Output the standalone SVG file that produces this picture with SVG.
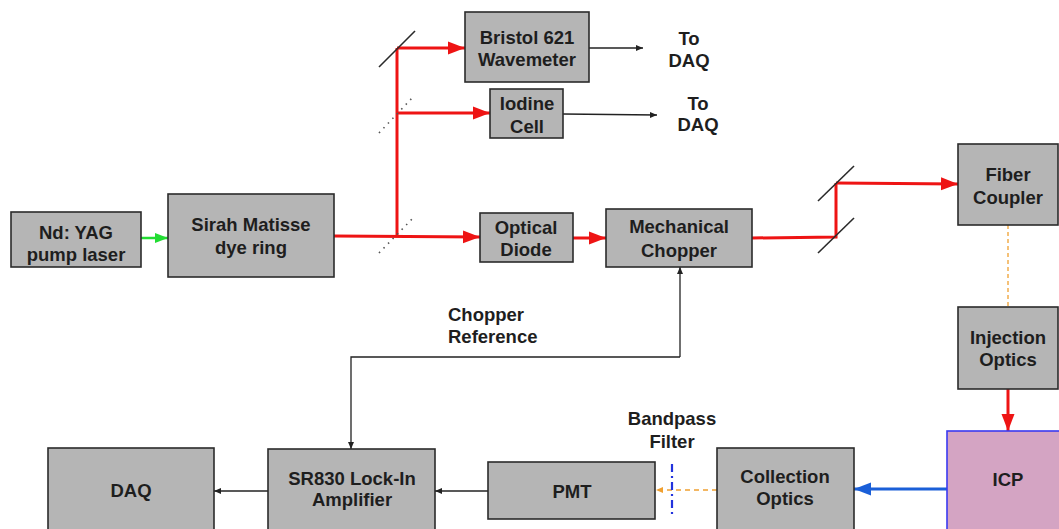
<svg xmlns="http://www.w3.org/2000/svg" width="1059" height="529" viewBox="0 0 1059 529">
<style>
.box{fill:#b5b5b5;stroke:#2b2b2b;stroke-width:1.6}
.icp{fill:#d4a4c3;stroke:#3a3af0;stroke-width:1.6}
text{font-family:"Liberation Sans",Arial,sans-serif;font-weight:bold;font-size:18.5px;fill:#1e1e1e;text-anchor:middle}
.red{stroke:#ee1414;stroke-width:3;fill:none}
.blk{stroke:#222;stroke-width:1.3;fill:none}
.mir{stroke:#2a2a2a;stroke-width:1.6}
.bs{stroke:#555;stroke-width:1.6;stroke-dasharray:1.5 5}
</style>
<defs>
<marker id="ar" markerUnits="userSpaceOnUse" markerWidth="18" markerHeight="14" refX="17" refY="7" orient="auto"><path d="M0,0.5 L17,7 L0,13.5 z" fill="#ee1414"/></marker>
<marker id="ab" markerUnits="userSpaceOnUse" markerWidth="18" markerHeight="14" refX="17" refY="7" orient="auto"><path d="M0,0.5 L17,7 L0,13.5 z" fill="#1a5fd8"/></marker>
<marker id="ag" markerUnits="userSpaceOnUse" markerWidth="14" markerHeight="12" refX="13" refY="6" orient="auto"><path d="M0,1 L13,6 L0,11 z" fill="#22dd33"/></marker>
<marker id="ak" markerUnits="userSpaceOnUse" markerWidth="8" markerHeight="8" refX="7" refY="4" orient="auto"><path d="M0,1 L7,4 L0,7 z" fill="#222"/></marker>
<marker id="ao" markerUnits="userSpaceOnUse" markerWidth="8" markerHeight="8" refX="7" refY="4" orient="auto"><path d="M0,1 L7,4 L0,7 z" fill="#f0a030"/></marker>
</defs>

<g id="connectors">
  <line x1="141" y1="238" x2="168" y2="238" stroke="#22dd33" stroke-width="2.5" marker-end="url(#ag)"/>
  <line class="red" x1="334" y1="236" x2="480" y2="237" marker-end="url(#ar)"/>
  <line class="red" x1="397" y1="237" x2="397" y2="48"/>
  <line class="red" x1="397" y1="48" x2="465" y2="48" marker-end="url(#ar)"/>
  <line class="red" x1="397" y1="113" x2="490" y2="113" marker-end="url(#ar)"/>
  <line class="red" x1="573" y1="238" x2="606" y2="238" marker-end="url(#ar)"/>
  <polyline class="red" points="752,238 836,237 836,183"/>
  <line class="red" x1="836" y1="183" x2="958" y2="184" marker-end="url(#ar)"/>
  <line class="red" x1="1008" y1="389" x2="1008" y2="431" marker-end="url(#ar)"/>
  <line class="mir" x1="379" y1="67" x2="415" y2="31"/>
  <line class="bs" x1="379" y1="133" x2="413" y2="97"/>
  <line class="bs" x1="379" y1="253" x2="413" y2="218"/>
  <line class="mir" x1="818" y1="201" x2="854" y2="166"/>
  <line class="mir" x1="818" y1="253" x2="854" y2="218"/>
  <line x1="1008" y1="225" x2="1008" y2="307" stroke="#f0a030" stroke-width="1.3" stroke-dasharray="4 3"/>
  <line x1="947" y1="489" x2="854" y2="489" stroke="#1a5fd8" stroke-width="3" marker-end="url(#ab)"/>
  <line x1="717" y1="490" x2="656" y2="490" stroke="#f0a030" stroke-width="1.5" stroke-dasharray="5 4" marker-end="url(#ao)"/>
  <line x1="672" y1="464" x2="672" y2="518" stroke="#2233dd" stroke-width="2.2" stroke-dasharray="8 4 2 4"/>
  <line class="blk" x1="589" y1="48" x2="643" y2="48" marker-end="url(#ak)"/>
  <line class="blk" x1="563" y1="114" x2="657" y2="115" marker-end="url(#ak)"/>
  <line class="blk" x1="488" y1="491" x2="435" y2="491" marker-end="url(#ak)"/>
  <line class="blk" x1="268" y1="491" x2="214" y2="491" marker-end="url(#ak)"/>
  <polyline class="blk" points="680,357 680,267" marker-end="url(#ak)"/>
  <polyline class="blk" points="680,357 351,357 351,449" marker-end="url(#ak)"/>
</g>

<g id="nd-yag"><rect class="box" x="11" y="212" width="130" height="55"/><text x="76" y="239">Nd: YAG</text><text x="76" y="261">pump laser</text></g>
<g id="sirah"><rect class="box" x="168" y="194" width="166" height="83"/><text x="251" y="231">Sirah Matisse</text><text x="251" y="254">dye ring</text></g>
<g id="bristol"><rect class="box" x="465" y="12" width="124" height="70"/><text x="527" y="44">Bristol 621</text><text x="527" y="66">Wavemeter</text></g>
<g id="iodine"><rect class="box" x="490" y="89" width="73" height="49"/><text x="527" y="110">Iodine</text><text x="527" y="133">Cell</text></g>
<g id="diode"><rect class="box" x="480" y="213" width="93" height="49"/><text x="526" y="234">Optical</text><text x="526" y="256">Diode</text></g>
<g id="chopper"><rect class="box" x="606" y="209" width="146" height="58"/><text x="679" y="233">Mechanical</text><text x="679" y="257">Chopper</text></g>
<g id="fiber"><rect class="box" x="958" y="144" width="100" height="81"/><text x="1008" y="181">Fiber</text><text x="1008" y="204">Coupler</text></g>
<g id="injection"><rect class="box" x="958" y="307" width="100" height="82"/><text x="1008" y="344">Injection</text><text x="1008" y="366">Optics</text></g>
<g id="icp"><rect class="icp" x="947" y="431" width="114" height="105"/><text x="1008" y="486">ICP</text></g>
<g id="collection"><rect class="box" x="717" y="448" width="137" height="88"/><text x="785" y="483">Collection</text><text x="785" y="505">Optics</text></g>
<g id="pmt"><rect class="box" x="488" y="462" width="167" height="57"/><text x="572" y="498">PMT</text></g>
<g id="sr830"><rect class="box" x="268" y="449" width="167" height="87"/><text x="352" y="485">SR830 Lock-In</text><text x="352" y="506">Amplifier</text></g>
<g id="daq"><rect class="box" x="48" y="448" width="166" height="88"/><text x="131" y="497">DAQ</text></g>

<g id="labels">
  <text x="689" y="45">To</text><text x="689" y="67">DAQ</text>
  <text x="698" y="110">To</text><text x="698" y="131">DAQ</text>
  <text x="448" y="321" style="text-anchor:start">Chopper</text>
  <text x="448" y="343" style="text-anchor:start">Reference</text>
  <text x="672" y="425">Bandpass</text><text x="672" y="448">Filter</text>
</g>
</svg>
